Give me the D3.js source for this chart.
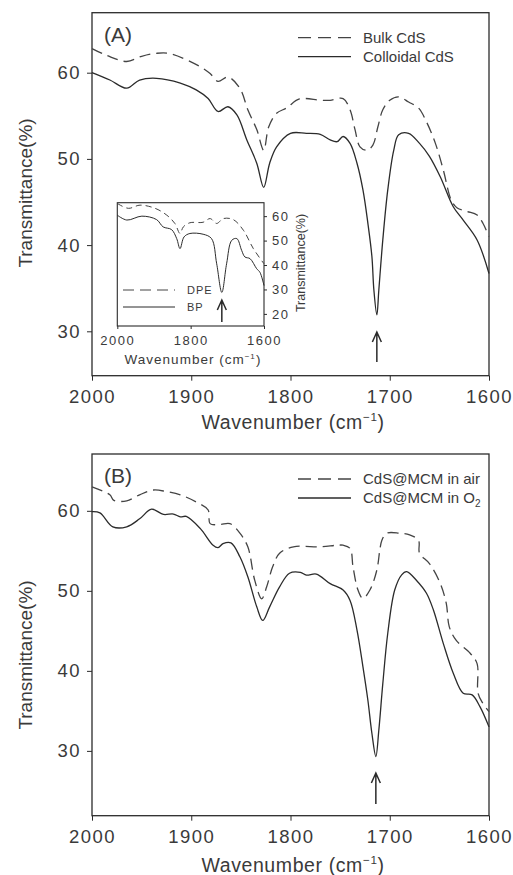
<!DOCTYPE html>
<html>
<head>
<meta charset="utf-8">
<script src="https://cdn.jsdelivr.net/npm/d3@7"></script>
<style>
  body { margin: 0; background: #fff; }
  svg text { font-family: "Liberation Sans", Arial, sans-serif; fill: #3a3a3a; }
</style>
</head>
<body>
<svg id="chart" width="513" height="875"></svg>
<script>
// ---- panel A : Bulk vs colloidal CdS ----
var bulkW = [2000,1985,1965,1950,1935,1921,1891,1881,1873,1863,1851,1843,1834,1827,1822,1814,1804,1791,1770,1760,1747,1740,1735,1730,1723,1717,1712,1707,1700,1691,1681,1671,1663,1654,1646,1638,1632,1622,1612,1606,1600];
var bulkT = [62.8,62.0,61.3,61.9,62.25,62.2,60.7,59.9,59.0,59.5,58.2,55.7,53.4,51.0,53.7,55.3,55.9,56.95,56.8,56.8,57.0,55.7,53.4,51.4,51.0,51.6,53.7,55.7,56.8,57.2,56.6,55.9,54.3,51.8,48.7,45.2,44.3,43.9,43.5,42.5,41.0];
var collW = [2000,1982,1965,1952,1935,1911,1895,1883,1873,1863,1854,1844,1834,1827,1821,1814,1800,1784,1770,1760,1753,1747,1740,1733,1727,1722,1718,1716,1713,1711,1707,1702,1696,1691,1681,1670,1660,1649,1636,1626,1612,1600];
var collT = [60.0,59.15,58.2,59.15,59.35,58.8,58.0,57.0,55.5,56.05,55.1,52.2,49.5,46.7,49.5,51.4,52.97,52.97,52.85,52.2,52.0,52.6,51.8,49.5,46.4,42.5,38.7,34.8,31.9,34.8,40.6,46.4,51.0,52.8,52.97,51.8,50.3,47.9,44.45,42.9,40.6,36.7];

// ---- inset : DPE vs BP ----
var dpeW = [2000,1970,1938,1897,1865,1843,1829,1820,1802,1766,1747,1729,1711,1684,1656,1629,1600];
var dpeT = [65.2,63.2,64.5,63.2,60.4,57.0,52.9,55.6,57.3,57.5,59.0,57.0,59.0,58.6,54.2,46.7,40.5];
var bpW = [2000,1974,1933,1893,1875,1852,1838,1829,1818,1802,1766,1743,1729,1715,1702,1688,1674,1661,1652,1638,1620,1611,1600];
var bpT = [60.4,58.4,60.0,58.6,55.6,54.5,50.8,46.7,51.5,52.9,52.6,50.8,40.5,28.8,40.5,50.1,50.8,46.0,43.3,42.6,38.5,37.0,31.6];

// ---- panel B : CdS@MCM in air vs O2 ----
var airW = [2000,1982,1978,1965,1952,1938,1925,1911,1895,1883,1881,1871,1861,1851,1843,1836,1829,1824,1818,1811,1797,1770,1753,1747,1740,1737,1732,1727,1720,1713,1710,1708,1703,1690,1680,1671,1670,1660,1649,1643,1640,1633,1619,1612,1611,1606,1600];
var airT = [63.0,62.0,61.3,61.25,62.0,62.6,62.4,62.0,61.1,60.1,58.4,58.3,58.4,57.2,55.5,51.3,49.0,50.5,53.0,54.7,55.5,55.5,55.7,55.7,55.3,53.0,50.1,49.05,50.1,52.6,55.1,56.3,57.2,57.2,57.0,56.3,54.7,53.4,50.9,48.4,45.5,43.8,42.2,40.9,37.2,35.9,34.9];
var o2W = [2000,1992,1979,1965,1952,1940,1928,1918,1911,1905,1891,1878,1873,1868,1860,1851,1843,1834,1828,1821,1811,1801,1790,1784,1774,1760,1747,1740,1733,1727,1722,1718,1714,1711,1707,1702,1695,1688,1683,1673,1663,1656,1646,1636,1626,1617,1609,1600];
var o2T = [59.9,59.75,58.0,58.0,59.0,60.2,59.55,59.6,59.25,59.3,57.8,55.7,55.4,55.9,56.0,54.25,51.75,48.0,46.3,48.0,50.5,52.2,52.3,51.96,52.1,50.9,50.1,48.8,45.1,40.5,36.3,32.2,29.3,32.6,38.4,44.7,50.1,52.0,52.4,51.3,49.7,47.6,43.4,39.7,37.2,37.0,35.5,33.0];

// tick labels
var mainXTicks = [2000,1900,1800,1700,1600];
var mainYTicks = [30,40,50,60];
var insetXTicks = [2000,1800,1600];
var insetYTicks = [20,30,40,50,60];
// marked peaks (arrows)
var peakA = 1713, peakInset = 1715, peakB = 1714;

var svg = d3.select('#chart');
var ink = '#2b2b2b';

function zip(ws, ts) {
  return ws.map(function (w, i) { return { w: w, t: ts[i] }; });
}

function superTitle(g, x, y, size, spacing) {
  var t = g.append('text').attr('x', x).attr('y', y)
    .attr('text-anchor', 'middle').style('font-size', size + 'px').style('letter-spacing', spacing + 'px');
  t.append('tspan').text('Wavenumber (cm');
  t.append('tspan').text('\u22121').attr('dy', -size * 0.4).style('font-size', (size * 0.6) + 'px');
  t.append('tspan').text(')').attr('dy', size * 0.4);
  return t;
}

function arrow(g, x, y0, y1) {
  g.append('path')
    .attr('d', 'M' + x + ',' + y0 + 'V' + y1 + 'M' + (x - 4.5) + ',' + (y1 + 10) + 'L' + x + ',' + y1 + 'L' + (x + 4.5) + ',' + (y1 + 10))
    .attr('fill', 'none').attr('stroke', ink).attr('stroke-width', 1.5);
}

// draw a main panel, returns its scales
function drawPanel(cfg) {
  var x = d3.scaleLinear().domain([2000, 1600]).range([92, 489]);
  var y = d3.scaleLinear().domain(cfg.yDomain).range([cfg.bottom, cfg.top]);
  var g = svg.append('g');

  g.append('rect')
    .attr('x', 92).attr('y', cfg.top).attr('width', 489 - 92).attr('height', cfg.bottom - cfg.top)
    .attr('fill', 'none').attr('stroke', ink).attr('stroke-width', 1.3);

  var xa = g.append('g').attr('transform', 'translate(0,' + cfg.bottom + ')')
    .call(d3.axisBottom(x).tickValues(mainXTicks).tickSize(5).tickSizeOuter(0).tickPadding(9).tickFormat(d3.format('d')));
  var ya = g.append('g').attr('transform', 'translate(92,0)')
    .call(d3.axisLeft(y).tickValues(mainYTicks).tickSize(5).tickSizeOuter(0).tickPadding(6));
  [xa, ya].forEach(function (a) {
    a.select('.domain').remove();
    a.selectAll('line').attr('stroke', ink);
    a.selectAll('text').style('font-size', '18.5px').style('letter-spacing', '1.5px').attr('fill', '#3a3a3a');
  });

  g.append('text')
    .attr('transform', 'translate(32,' + cfg.yTitle + ') rotate(-90)')
    .attr('text-anchor', 'middle').style('font-size', '19px')
    .text('Transmittance(%)');
  superTitle(g, 293, cfg.xTitle, 19.5, 0.6);

  var line = d3.line()
    .x(function (d) { return x(d.w); })
    .y(function (d) { return y(d.t); })
    .curve(d3.curveCatmullRom.alpha(0.5));

  g.append('path').datum(zip(cfg.dashW, cfg.dashT)).attr('d', line)
    .attr('fill', 'none').attr('stroke', '#444').attr('stroke-width', 1.3).attr('stroke-dasharray', '11,6');
  g.append('path').datum(zip(cfg.solidW, cfg.solidT)).attr('d', line)
    .attr('fill', 'none').attr('stroke', ink).attr('stroke-width', 1.3);

  g.append('text').attr('x', 104).attr('y', cfg.top + 29).style('font-size', '21px').text(cfg.tag);

  // legend
  var ly = cfg.top + 25;
  g.append('line').attr('x1', 298).attr('x2', 351).attr('y1', ly).attr('y2', ly)
    .attr('stroke', '#444').attr('stroke-width', 1.3).attr('stroke-dasharray', '13,7');
  g.append('text').attr('x', 363).attr('y', ly + 5).style('font-size', '15px').text(cfg.dashName);
  g.append('line').attr('x1', 298).attr('x2', 351).attr('y1', ly + 19).attr('y2', ly + 19)
    .attr('stroke', ink).attr('stroke-width', 1.3);
  var lt = g.append('text').attr('x', 363).attr('y', ly + 24).style('font-size', '15px');
  cfg.solidName(lt);

  arrow(g, x(cfg.peak), cfg.arrowY0, cfg.arrowY1);
  return { x: x, y: y, g: g };
}

// panel A
drawPanel({
  top: 12.7, bottom: 375.7, yDomain: [24.85, 66.96],
  yTitle: 193, xTitle: 429, tag: '(A)',
  dashW: bulkW, dashT: bulkT, solidW: collW, solidT: collT,
  dashName: 'Bulk CdS',
  solidName: function (t) { t.text('Colloidal CdS'); },
  peak: peakA, arrowY0: 362, arrowY1: 332
});

// panel B
drawPanel({
  top: 454, bottom: 815.7, yDomain: [21.9, 67.1],
  yTitle: 655, xTitle: 872, tag: '(B)',
  dashW: airW, dashT: airT, solidW: o2W, solidT: o2T,
  dashName: 'CdS@MCM in air',
  solidName: function (t) {
    t.append('tspan').text('CdS@MCM in O');
    t.append('tspan').text('2').attr('dy', 4).style('font-size', '10px');
  },
  peak: peakB, arrowY0: 804, arrowY1: 773
});

// inset in panel A
(function () {
  var L = 117.3, R = 264, T = 202.7, B = 326;
  var x = d3.scaleLinear().domain([2000, 1600]).range([L, R]);
  var y = d3.scaleLinear().domain([15.05, 65.5]).range([B, T]);
  var g = svg.append('g');

  g.append('rect').attr('x', L).attr('y', T).attr('width', R - L).attr('height', B - T)
    .attr('fill', '#fff').attr('stroke', ink).attr('stroke-width', 1.1);

  var xa = g.append('g').attr('transform', 'translate(0,' + B + ')')
    .call(d3.axisBottom(x).tickValues(insetXTicks).tickSize(3).tickSizeOuter(0).tickPadding(7).tickFormat(d3.format('d')));
  var ya = g.append('g').attr('transform', 'translate(' + R + ',0)')
    .call(d3.axisRight(y).tickValues(insetYTicks).tickSize(3).tickSizeOuter(0).tickPadding(5));
  [xa, ya].forEach(function (a) {
    a.select('.domain').remove();
    a.selectAll('line').attr('stroke', ink);
    a.selectAll('text').style('font-size', '13px').style('letter-spacing', '1.5px').attr('fill', '#3a3a3a');
  });

  g.append('text')
    .attr('transform', 'translate(305,263) rotate(-90)')
    .attr('text-anchor', 'middle').style('font-size', '12.5px')
    .text('Transmittance(%)');
  superTitle(g, 193, 364, 13.5, 1);

  var line = d3.line()
    .x(function (d) { return x(d.w); })
    .y(function (d) { return y(d.t); })
    .curve(d3.curveCatmullRom.alpha(0.5));
  g.append('path').datum(zip(dpeW, dpeT)).attr('d', line)
    .attr('fill', 'none').attr('stroke', '#444').attr('stroke-width', 1).attr('stroke-dasharray', '6,4');
  g.append('path').datum(zip(bpW, bpT)).attr('d', line)
    .attr('fill', 'none').attr('stroke', ink).attr('stroke-width', 1);

  g.append('line').attr('x1', 123).attr('x2', 175).attr('y1', 290).attr('y2', 290)
    .attr('stroke', '#444').attr('stroke-width', 1).attr('stroke-dasharray', '11,6');
  g.append('text').attr('x', 187).attr('y', 294).style('font-size', '11px').style('letter-spacing', '1px').text('DPE');
  g.append('line').attr('x1', 123).attr('x2', 175).attr('y1', 307).attr('y2', 307)
    .attr('stroke', ink).attr('stroke-width', 1);
  g.append('text').attr('x', 187).attr('y', 311).style('font-size', '11px').style('letter-spacing', '1px').text('BP');

  arrow(g, x(peakInset), 322, 300);
})();
</script>
</body>
</html>
